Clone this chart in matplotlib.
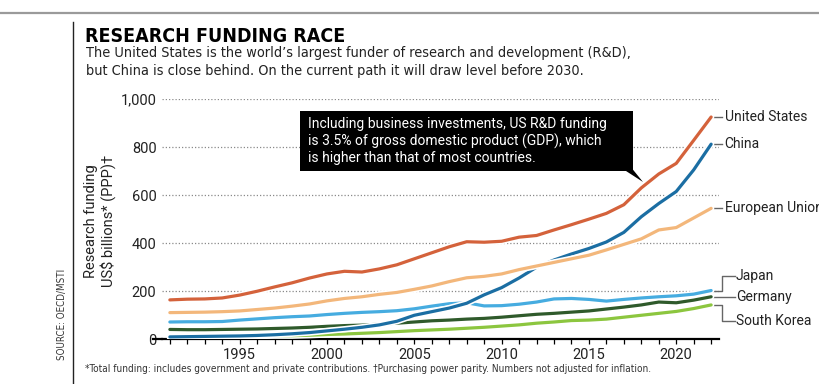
import matplotlib
matplotlib.use("Agg")
import matplotlib.pyplot as plt
import matplotlib.patheffects as pe
from matplotlib.patches import Rectangle, Polygon
from matplotlib.lines import Line2D
from matplotlib.ticker import FuncFormatter, MultipleLocator

# ---------------- data ----------------
years = list(range(1991, 2023))
us = [164, 167, 168, 172, 184, 200, 218, 235, 255, 272, 283, 280, 293, 310, 335, 360,
      385, 406, 404, 408, 425, 432, 455, 477, 500, 524, 560, 630, 688, 732, 828, 925]
china = [10, 11, 12, 13, 14, 16, 19, 23, 28, 35, 42, 50, 60, 75, 100, 115,
         130, 150, 185, 215, 255, 300, 330, 355, 378, 405, 445, 510, 565, 615, 705, 812]
eu = [111, 112, 113, 115, 118, 124, 130, 138, 147, 160, 170, 177, 187, 195, 208, 222,
      240, 256, 262, 272, 290, 305, 320, 335, 350, 372, 395, 418, 455, 465, 505, 545]
japan = [72, 73, 73, 74, 80, 85, 90, 94, 97, 103, 108, 112, 115, 119, 127, 138,
         148, 152, 139, 140, 146, 155, 168, 170, 166, 159, 166, 172, 177, 181, 188, 203]
germany = [41, 40, 40, 41, 42, 43, 45, 47, 50, 54, 57, 59, 63, 67, 72, 77,
           80, 84, 87, 92, 98, 104, 108, 113, 118, 126, 134, 143, 155, 152, 163, 177]
korea = [7, 8, 9, 10, 12, 14, 15, 15, 17, 20, 22, 25, 28, 32, 36, 39,
         42, 46, 50, 55, 60, 67, 72, 78, 80, 84, 92, 100, 108, 116, 128, 143]

series_names = ["South Korea", "Germany", "Japan", "China", "European Union", "United States"]
series_values = [korea, germany, japan, china, eu, us]
series_colors = ["#8cc63f", "#2f5a2b", "#46ace0", "#1b6ea3", "#f3b77b", "#d4623b"]

y_ticks = [0, 200, 400, 600, 800, 1000]
x_major = [1995, 2000, 2005, 2010, 2015, 2020]

title = "RESEARCH FUNDING RACE"
subtitle1 = "The United States is the world\u2019s largest funder of research and development (R&D),"
subtitle2 = "but China is close behind. On the current path it will draw level before 2030."
ylabel = "Research funding\nUS$ billions* (PPP)\u2020"
note = ("Including business investments, US R&D funding\n"
        "is 3.5% of gross domestic product (GDP), which\n"
        "is higher than that of most countries.")
footnote = ("*Total funding: includes government and private contributions. "
            "\u2020Purchasing power parity. Numbers not adjusted for inflation.")
source = "SOURCE: OECD/MSTI"

# ---------------- figure ----------------
W, H = 820, 384
fig = plt.figure(figsize=(W / 100, H / 100), dpi=100)
fig.patch.set_facecolor("white")

def fx(x):
    return x / W

def fy(y):
    return 1 - y / H

NARROW = ["DejaVu Sans"]
MAIN = ["Roboto", "DejaVu Sans"]

ax_left, ax_right, ax_top, ax_bot = 162, 719, 99.0, 339.3
ax = fig.add_axes([fx(ax_left), fy(ax_bot), fx(ax_right - ax_left), (ax_bot - ax_top) / H])
ax.set_xlim(1990.55, 2022.45)
ax.set_ylim(0, 1000)
ax.patch.set_alpha(0)

for s in ["top", "right", "left"]:
    ax.spines[s].set_visible(False)
ax.spines["bottom"].set_linewidth(1.6)
ax.spines["bottom"].set_color("black")
ax.add_line(Line2D([-0.016, 0.0], [0, 0], transform=ax.transAxes, color="black",
                   lw=1.6, clip_on=False))

ax.set_yticks(y_ticks)
ax.yaxis.set_major_formatter(FuncFormatter(lambda v, p: f"{int(v):,}"))
ax.tick_params(axis="y", length=0, pad=4, labelsize=10.5, labelcolor="#222222")
ax.set_xticks(x_major)
ax.xaxis.set_minor_locator(MultipleLocator(1))
ax.tick_params(axis="x", which="both", direction="out", length=3.5, width=0.9,
               color="black", labelsize=10.5, pad=3, labelcolor="#222222")
for lab in ax.get_xticklabels() + ax.get_yticklabels():
    lab.set_family(MAIN)

for yv in y_ticks[1:]:
    ax.axhline(yv, color="#8a8a8a", lw=0.9, ls=(0, (1, 1.6)), zorder=1)

halo = [pe.Stroke(linewidth=4.6, foreground="white"), pe.Normal()]
for name, vals, col in zip(series_names, series_values, series_colors):
    ax.plot(years, vals, color=col, lw=2.3, solid_capstyle="round",
            path_effects=halo, zorder=3)

fig.text(fx(100), fy(221), ylabel, family=MAIN, fontsize=10.5, color="#222222",
         rotation=90, ha="center", va="center", multialignment="center",
         linespacing=1.1)

# ---- end labels with connectors ----
end_x = years[-1] + 0.1
elbow_x = 2022.65
far_x = 2023.35
lab_kw = dict(family=MAIN, fontsize=10, color="#222222", va="center", clip_on=False)
conn_kw = dict(color="#666666", lw=1.0, clip_on=False)

for name, vals in [("United States", us), ("China", china), ("European Union", eu)]:
    ax.plot([end_x, elbow_x], [vals[-1], vals[-1]], **conn_kw)
    ax.text(elbow_x + 0.12, vals[-1], name, **lab_kw)

japan_lab, germany_lab, korea_lab = 263, 175, 77
ax.plot([end_x, elbow_x, elbow_x, far_x], [japan[-1], japan[-1], japan_lab, japan_lab], **conn_kw)
ax.text(far_x + 0.08, japan_lab, "Japan", **lab_kw)
ax.plot([end_x, far_x], [germany[-1], germany[-1]], **conn_kw)
ax.text(far_x + 0.08, germany_lab, "Germany", **lab_kw)
ax.plot([end_x, elbow_x, elbow_x, far_x], [korea[-1], korea[-1], korea_lab, korea_lab], **conn_kw)
ax.text(far_x + 0.08, korea_lab, "South Korea", **lab_kw)

# ---- annotation box ----
bx0, bx1, by0, by1 = 300, 633, 110.7, 170.7
fig.patches.append(Rectangle((fx(bx0), fy(by1)), fx(bx1 - bx0), (by1 - by0) / H,
                             transform=fig.transFigure, facecolor="black",
                             edgecolor="none", zorder=5))
fig.patches.append(Polygon([(fx(624), fy(by1 - 1)), (fx(bx1), fy(by1 - 1)),
                            (fx(643), fy(182))], closed=True,
                           transform=fig.transFigure, facecolor="black",
                           edgecolor="none", zorder=5))
fig.text(fx(308), fy(141), note, family=MAIN, fontsize=10, color="white",
         va="center", ha="left", linespacing=1.2, zorder=6)

# ---- header & decorations ----
fig.add_artist(Line2D([0, 1], [fy(13.3), fy(13.3)], transform=fig.transFigure,
                      color="#9a9a9a", lw=1.6))
fig.add_artist(Line2D([fx(73.3), fx(73.3)], [fy(22), 0], transform=fig.transFigure,
                      color="#222222", lw=1.0))
fig.text(fx(85), fy(41.7), title, family=NARROW, fontweight="bold", fontstretch="condensed",
         fontsize=14, color="black", va="baseline", ha="left")
fig.text(fx(86), fy(53.3), subtitle1, family=NARROW, fontstretch="condensed",
         fontsize=10.4, color="#222222", va="center", ha="left")
fig.text(fx(86), fy(71.5), subtitle2, family=NARROW, fontstretch="condensed",
         fontsize=10.4, color="#222222", va="center", ha="left")
fig.text(fx(61.7), fy(314), source, family=NARROW, fontstretch="condensed", fontsize=7,
         color="#333333", rotation=90, va="center", ha="center")
fig.text(fx(85), fy(369), footnote, family=NARROW, fontstretch="condensed", fontsize=7.2,
         color="#333333", va="center", ha="left")

fig.savefig("out.png", dpi=100, facecolor="white")
